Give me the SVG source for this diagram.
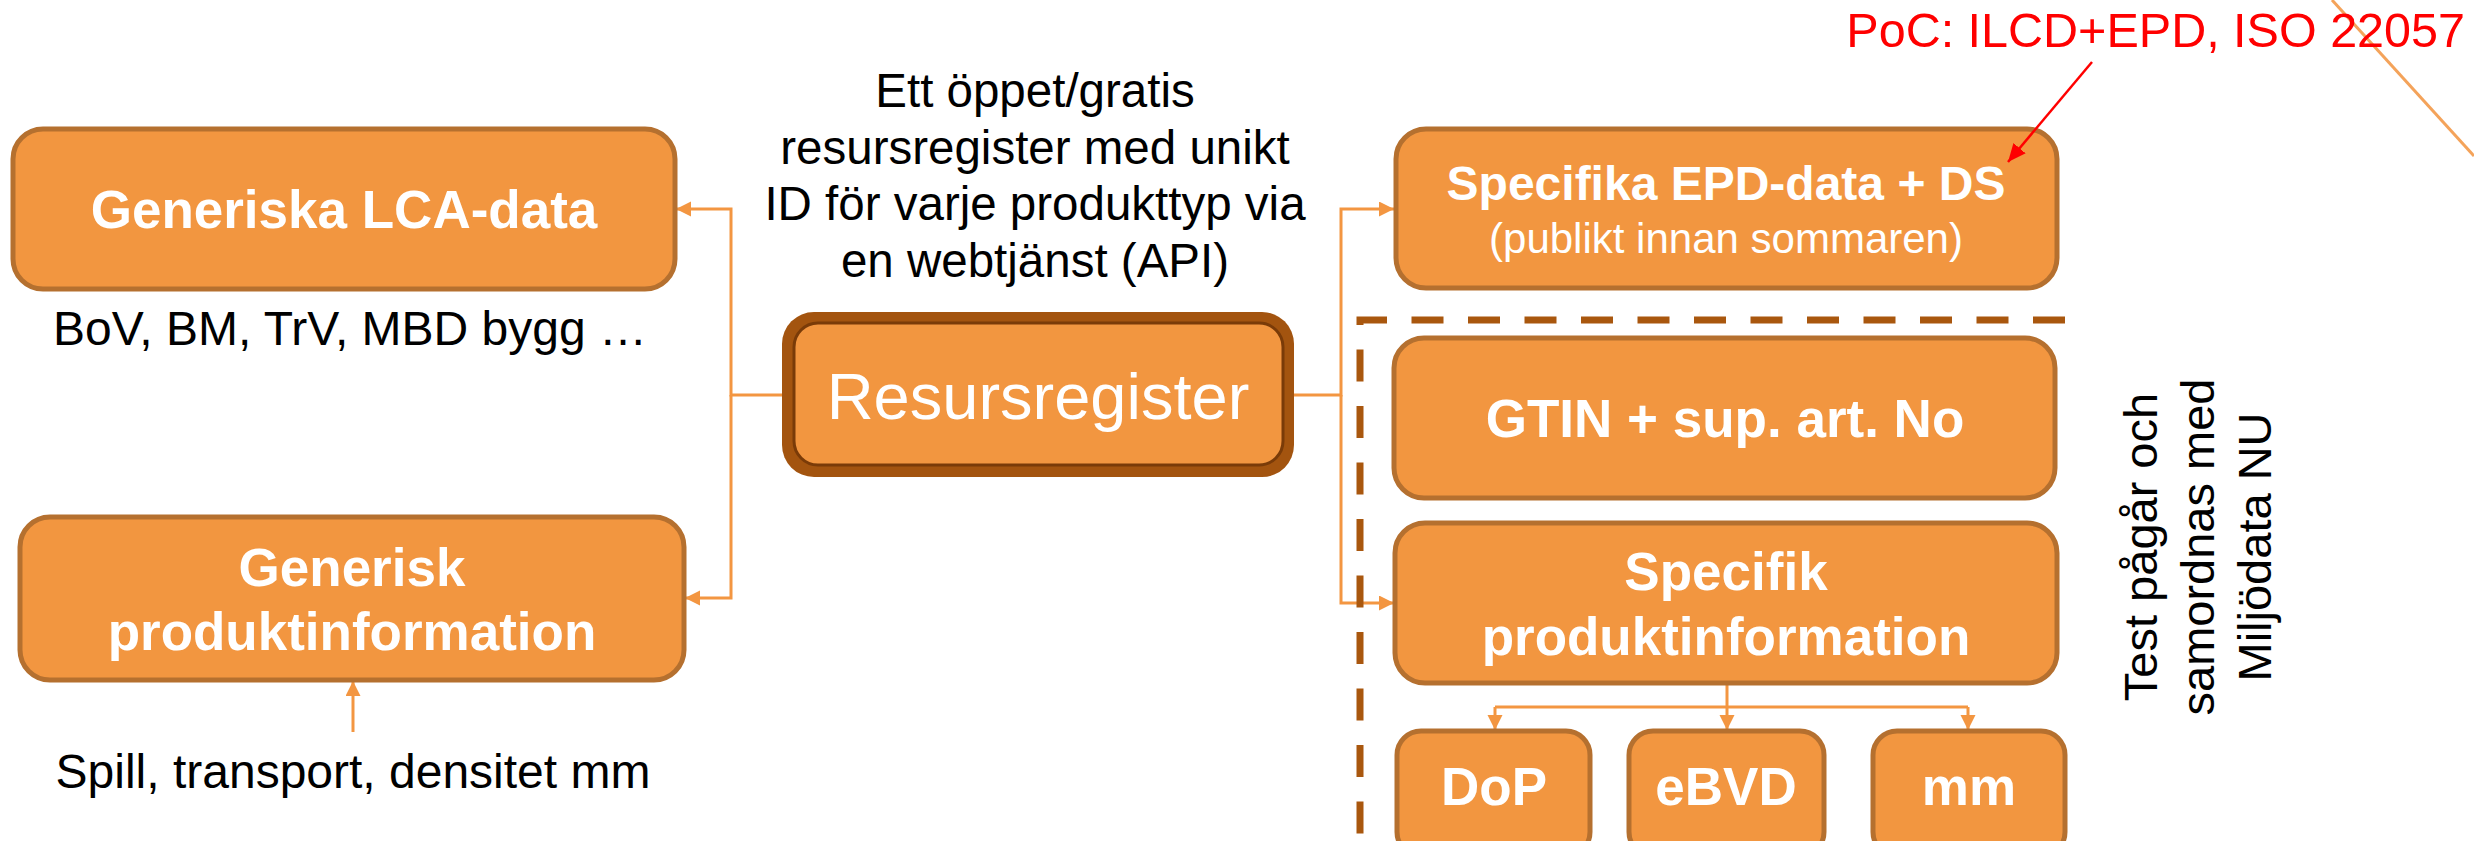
<svg xmlns="http://www.w3.org/2000/svg" width="2474" height="841" viewBox="0 0 2474 841">
<style>
.box{fill:#F29640;stroke:#B5702F;stroke-width:5}
.bt{font-family:"Liberation Sans",Arial,sans-serif;font-weight:bold;fill:#FFFFFF;text-anchor:middle}
.nt{font-family:"Liberation Sans",Arial,sans-serif;fill:#000000;text-anchor:middle}
.con{fill:none;stroke:#F39641;stroke-width:3}
</style>
<defs>
<marker id="arr" markerUnits="userSpaceOnUse" markerWidth="16" markerHeight="16" refX="15" refY="7.5" orient="auto">
<path d="M0,0 L15,7.5 L0,15 z" fill="#F39641"/>
</marker>
<marker id="rarr" markerUnits="userSpaceOnUse" markerWidth="20" markerHeight="20" refX="18" refY="8" orient="auto">
<path d="M0,0 L18,8 L0,16 z" fill="#FF0000"/>
</marker>
</defs>
<rect width="2474" height="841" fill="#FFFFFF"/>

<g id="connectors">
<path class="con" d="M782,395 H731 V209 H676" marker-end="url(#arr)"/>
<path class="con" d="M731,395 V598 H685" marker-end="url(#arr)"/>
<path class="con" d="M1292,395 H1341 V209 H1394" marker-end="url(#arr)"/>
<path class="con" d="M1341,395 V603 H1394" marker-end="url(#arr)"/>
<path class="con" d="M353,732 V681" marker-end="url(#arr)"/>
<path class="con" d="M1727,683 V707"/>
<path class="con" d="M1495,707 H1968"/>
<path class="con" d="M1495,707 V730" marker-end="url(#arr)"/>
<path class="con" d="M1727,707 V730" marker-end="url(#arr)"/>
<path class="con" d="M1968,707 V730" marker-end="url(#arr)"/>
<path d="M2332,0 L2474,156" stroke="#F4A35A" stroke-width="3" fill="none"/>
</g>

<g id="dashed-frame">
<path d="M2065,320 H1360 V845" fill="none" stroke="#A9570E" stroke-width="7" stroke-dasharray="32 24.5"/>
</g>

<g id="generiska-lca">
<rect class="box" x="13" y="129" width="662" height="160" rx="30"/>
<text class="bt" x="344" y="228" font-size="53">Generiska LCA-data</text>
</g>
<text class="nt" x="350" y="345" font-size="48">BoV, BM, TrV, MBD bygg …</text>

<g id="generisk-produkt">
<rect class="box" x="20" y="517" width="664" height="163" rx="30"/>
<text class="bt" x="352" y="586" font-size="53">Generisk</text>
<text class="bt" x="352" y="650" font-size="53">produktinformation</text>
</g>
<text class="nt" x="353" y="788" font-size="48">Spill, transport, densitet mm</text>

<g id="beskrivning">
<text class="nt" x="1035" y="107" font-size="47.5">Ett öppet/gratis</text>
<text class="nt" x="1035" y="164" font-size="47.5">resursregister med unikt</text>
<text class="nt" x="1035" y="220" font-size="47.5">ID för varje produkttyp via</text>
<text class="nt" x="1035" y="277" font-size="47.5">en webtjänst (API)</text>
</g>

<g id="resursregister">
<rect x="782" y="312" width="512" height="165" rx="32" fill="#A3540F"/>
<rect x="794" y="323" width="489" height="142" rx="24" fill="#F29640" stroke="#7A3B08" stroke-width="3"/>
<text x="1038" y="419" font-size="65" font-family="'Liberation Sans',Arial,sans-serif" fill="#FFFFFF" text-anchor="middle">Resursregister</text>
</g>

<g id="specifika-epd">
<rect class="box" x="1396" y="129" width="661" height="159" rx="30"/>
<text class="bt" x="1726" y="200" font-size="48">Specifika EPD-data + DS</text>
<text x="1726" y="253" font-size="42" font-family="'Liberation Sans',Arial,sans-serif" fill="#FFFFFF" text-anchor="middle">(publikt innan sommaren)</text>
</g>

<g id="gtin">
<rect class="box" x="1394" y="338" width="661" height="160" rx="30"/>
<text class="bt" x="1725" y="437" font-size="53">GTIN + sup. art. No</text>
</g>

<g id="specifik-produkt">
<rect class="box" x="1395" y="523" width="662" height="160" rx="30"/>
<text class="bt" x="1726" y="590" font-size="53">Specifik</text>
<text class="bt" x="1726" y="655" font-size="53">produktinformation</text>
</g>

<g id="dop">
<rect class="box" x="1397" y="731" width="193" height="125" rx="24"/>
<text class="bt" x="1494" y="805" font-size="53">DoP</text>
</g>
<g id="ebvd">
<rect class="box" x="1629" y="731" width="195" height="125" rx="24"/>
<text class="bt" x="1726" y="805" font-size="53">eBVD</text>
</g>
<g id="mm">
<rect class="box" x="1873" y="731" width="192" height="125" rx="24"/>
<text class="bt" x="1969" y="805" font-size="53">mm</text>
</g>

<g id="test-note" font-family="'Liberation Sans',Arial,sans-serif" font-size="47" fill="#000000" text-anchor="middle">
<text transform="translate(2157,547) rotate(-90)">Test pågår och</text>
<text transform="translate(2214,547) rotate(-90)">samordnas med</text>
<text transform="translate(2271,547) rotate(-90)">Miljödata NU</text>
</g>

<g id="poc">
<text x="2465" y="47" font-size="48.5" font-family="'Liberation Sans',Arial,sans-serif" fill="#FF0000" text-anchor="end">PoC: ILCD+EPD, ISO 22057</text>
<path d="M2092,62 L2008,162" stroke="#FF0000" stroke-width="2.5" fill="none" marker-end="url(#rarr)"/>
</g>
</svg>
